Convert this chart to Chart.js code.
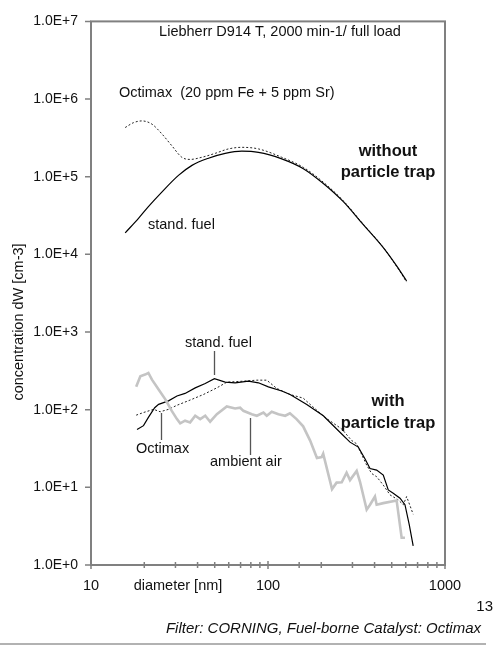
<!doctype html>
<html lang="en">
<head>
  <meta charset="utf-8" />
  <title>Particle size distribution</title>
  <script src="https://cdn.jsdelivr.net/npm/chart.js@4.4.1/dist/chart.umd.min.js"></script>
  <style>
    html, body { margin: 0; padding: 0; background: #fff; overflow: hidden; }
    canvas { display: block; }
  </style>
</head>
<body>
  <canvas id="chart" width="495" height="645"></canvas>

  <script>
    // Size distributions: diameter [nm] vs concentration dW [cm-3]

    // without particle trap, standard fuel
    const diamStdNoTrap = [15.6, 18.6, 21.1, 25.2, 31.2, 37.2, 46.1, 57.3, 71.1, 88.3, 119.6, 158.4, 205.4, 266.4, 345.3, 448, 533, 607];
    const concStdNoTrap = [1.89e4, 2.93e4, 4.12e4, 6.39e4, 1.04e5, 1.40e5, 1.73e5, 2.00e5, 2.13e5, 2.06e5, 1.70e5, 1.27e5, 8.18e4, 4.77e4, 2.41e4, 1.22e4, 7.1e3, 4.54e3];

    // without particle trap, Octimax
    const diamOctNoTrap = [15.6, 17.4, 19.4, 22.1, 25.2, 28.6, 32.6, 36.3, 42.3, 50.3, 59.8, 71.1, 88.3, 119.6, 158.4, 205.4, 266.4, 345.3, 448, 533, 607];
    const concOctNoTrap = [4.30e5, 4.97e5, 5.23e5, 4.75e5, 3.54e5, 2.51e5, 1.78e5, 1.67e5, 1.78e5, 2.00e5, 2.28e5, 2.39e5, 2.28e5, 1.78e5, 1.32e5, 8.5e4, 4.9e4, 2.45e4, 1.23e4, 7.0e3, 4.4e3];

    // with particle trap, standard fuel
    const diamStdTrap = [18.2, 19.8, 21.1, 22.9, 24.1, 27.4, 30.6, 34.0, 38.8, 44.2, 49.8, 57.3, 65.2, 77.5, 88.3, 100.5, 119.6, 133.3, 165.6, 205.4, 255, 290.6, 323.7, 353, 377, 411, 448, 478, 510, 557, 594, 628, 661];
    const concStdTrap = [55.4, 62.3, 79.5, 106, 117, 130, 150, 162, 191, 217, 251, 226, 222, 233, 222, 197, 174, 157, 117, 83.5, 51.2, 38.2, 33.0, 23.4, 17.5, 16.7, 14.4, 9.27, 8.4, 7.25, 5.97, 3.32, 1.76];

    // with particle trap, Octimax
    const diamOctTrap = [18.0, 19.8, 22.6, 24.6, 27.4, 30.6, 36.3, 43.2, 51.4, 58.5, 72.6, 86.5, 98.4, 112, 133, 158, 173, 210, 261, 297, 317, 361, 385, 411, 448, 489, 544, 581, 607, 661];
    const concOctTrap = [85, 92, 101, 94, 101, 114, 133, 157, 191, 226, 233, 240, 240, 188, 157, 141, 117, 79.4, 56.4, 40.1, 36.3, 19.3, 15.1, 13.7, 10.7, 8.0, 6.9, 5.97, 7.6, 4.5];

    // ambient air
    const diamAmbient = [18.0, 19.0, 20.2, 21.1, 22.1, 24.1, 26.3, 28.6, 30.6, 31.9, 34.0, 36.3, 38.8, 41.4, 44.2, 47.1, 51.4, 58.5, 65.2, 69.6, 72.6, 81.0, 86.5, 94.2, 98.4, 105, 114.5, 125, 133, 145, 158, 173, 189, 201, 205, 230, 244, 261, 278, 290.6, 317, 331, 361, 377, 402, 411, 448, 533, 569, 594];
    const concAmbient = [197, 270, 283, 297, 244, 182, 136, 96.7, 75.6, 66.7, 72.1, 68.6, 83.5, 75.6, 83.5, 70, 87.5, 110, 103.5, 106, 96.7, 87.5, 83.5, 92, 83.5, 94, 87.5, 83.5, 90, 75.6, 61, 40, 23.9, 24.6, 27.1, 9.5, 11.5, 11.6, 15.4, 12.4, 16.3, 11.8, 5.16, 5.97, 7.6, 5.97, 6.26, 6.78, 2.24, 2.24];

    // axis ranges and labelled ticks
    const xMajor = [10, 100, 1000];
    const yTicks = [1, 10, 100, 1e3, 1e4, 1e5, 1e6, 1e7];

    const pts = (xs, ys) => xs.map((x, i) => ({ x: x, y: ys[i] }));
    const FONT = "'Liberation Sans', Arial, sans-serif";
    const AXIS_GRAY = "#808080";

    // frame, tick marks and all the written notes
    const decorations = {
      id: "decorations",
      afterDraw(chart) {
        const ctx = chart.ctx;
        const a = chart.chartArea;
        const xs = chart.scales.x;
        const ys = chart.scales.y;
        ctx.save();

        // frame
        ctx.strokeStyle = AXIS_GRAY;
        ctx.lineWidth = 2;
        ctx.strokeRect(a.left, a.top, a.right - a.left, a.bottom - a.top);

        // y ticks (outside)
        ctx.lineWidth = 1.5;
        ctx.beginPath();
        yTicks.forEach(v => {
          const y = ys.getPixelForValue(v);
          ctx.moveTo(a.left - 6, y);
          ctx.lineTo(a.left, y);
        });
        // x ticks (across the axis)
        xs.ticks.forEach(t => {
          const x = xs.getPixelForValue(t.value);
          const big = xMajor.includes(t.value) ? 4 : 3;
          ctx.moveTo(x, a.bottom - big);
          ctx.lineTo(x, a.bottom + big);
        });
        ctx.stroke();

        // plain text notes
        ctx.fillStyle = "#111";
        ctx.textBaseline = "middle";
        ctx.font = "14.5px " + FONT;
        ctx.textAlign = "center";
        ctx.fillText("Liebherr D914 T, 2000 min-1/ full load", 280, 32);
        ctx.fillText("diameter [nm]", 178, 586);
        ctx.textAlign = "left";
        ctx.fillText("Octimax  (20 ppm Fe + 5 ppm Sr)", 119, 93);
        ctx.fillText("stand. fuel", 148, 225);
        ctx.fillText("stand. fuel", 185, 343);
        ctx.fillText("Octimax", 136, 449);
        ctx.fillText("ambient air", 210, 462);

        ctx.textAlign = "right";
        ctx.font = "15px " + FONT;
        ctx.fillText("13", 493, 607);

        ctx.font = "italic 15px " + FONT;
        ctx.fillText("Filter: CORNING, Fuel-borne Catalyst: Octimax", 481, 629);

        ctx.textAlign = "center";
        ctx.font = "bold 16.5px " + FONT;
        ctx.fillText("without", 388, 151);
        ctx.fillText("particle trap", 388, 172);
        ctx.fillText("with", 388, 401);
        ctx.fillText("particle trap", 388, 423);

        // y-axis title
        ctx.save();
        ctx.translate(19, 322);
        ctx.rotate(-Math.PI / 2);
        ctx.font = "14.5px " + FONT;
        ctx.fillText("concentration dW [cm-3]", 0, 0);
        ctx.restore();

        // pointer lines
        ctx.strokeStyle = "#555";
        ctx.lineWidth = 1.3;
        ctx.beginPath();
        ctx.moveTo(214.5, 351); ctx.lineTo(214.5, 375);
        ctx.moveTo(161.5, 413); ctx.lineTo(161.5, 440);
        ctx.moveTo(250.5, 418); ctx.lineTo(250.5, 455);
        ctx.stroke();

        // separator at the foot of the page
        ctx.strokeStyle = "#999";
        ctx.lineWidth = 1.5;
        ctx.beginPath();
        ctx.moveTo(0, 644); ctx.lineTo(486, 644);
        ctx.stroke();

        ctx.restore();
      }
    };

    const solid = { borderColor: "#000", borderWidth: 1.2, pointRadius: 0, fill: false };
    const dashed = { borderColor: "#222", borderWidth: 1, borderDash: [2, 2], pointRadius: 0, fill: false };

    new Chart(document.getElementById("chart"), {
      type: "line",
      data: {
        datasets: [
          { label: "ambient air", data: pts(diamAmbient, concAmbient), borderColor: "#c4c4c4", borderWidth: 2.6, pointRadius: 0, fill: false },
          Object.assign({ label: "stand. fuel, no trap", data: pts(diamStdNoTrap, concStdNoTrap), cubicInterpolationMode: "monotone" }, solid),
          Object.assign({ label: "Octimax, no trap", data: pts(diamOctNoTrap, concOctNoTrap), cubicInterpolationMode: "monotone" }, dashed),
          Object.assign({ label: "stand. fuel, trap", data: pts(diamStdTrap, concStdTrap) }, solid),
          Object.assign({ label: "Octimax, trap", data: pts(diamOctTrap, concOctTrap) }, dashed),
        ],
      },
      plugins: [decorations],
      options: {
        responsive: false,
        animation: false,
        devicePixelRatio: 1,
        layout: { autoPadding: false, padding: { top: 14, right: 50, left: 0, bottom: 0 } },
        plugins: { legend: { display: false }, tooltip: { enabled: false } },
        scales: {
          x: {
            type: "logarithmic",
            min: 10,
            max: 1000,
            grid: { display: false, drawTicks: false },
            border: { display: false },
            afterFit: s => { s.height = 80; },
            ticks: {
              autoSkip: false,
              maxRotation: 0,
              padding: 12,
              color: "#111",
              font: { family: FONT, size: 14.5 },
              callback: v => (xMajor.includes(v) ? String(v) : ""),
            },
          },
          y: {
            type: "logarithmic",
            min: 1,
            max: 1e7,
            grid: { display: false, drawTicks: false },
            border: { display: false },
            afterFit: s => { s.width = 91; },
            afterBuildTicks: s => { s.ticks = yTicks.map(v => ({ value: v })); },
            ticks: {
              autoSkip: false,
              padding: 13,
              color: "#111",
              font: { family: FONT, size: 14 },
              callback: v => "1.0E+" + Math.round(Math.log10(v)),
            },
          },
        },
      },
    });
  </script>
</body>
</html>
